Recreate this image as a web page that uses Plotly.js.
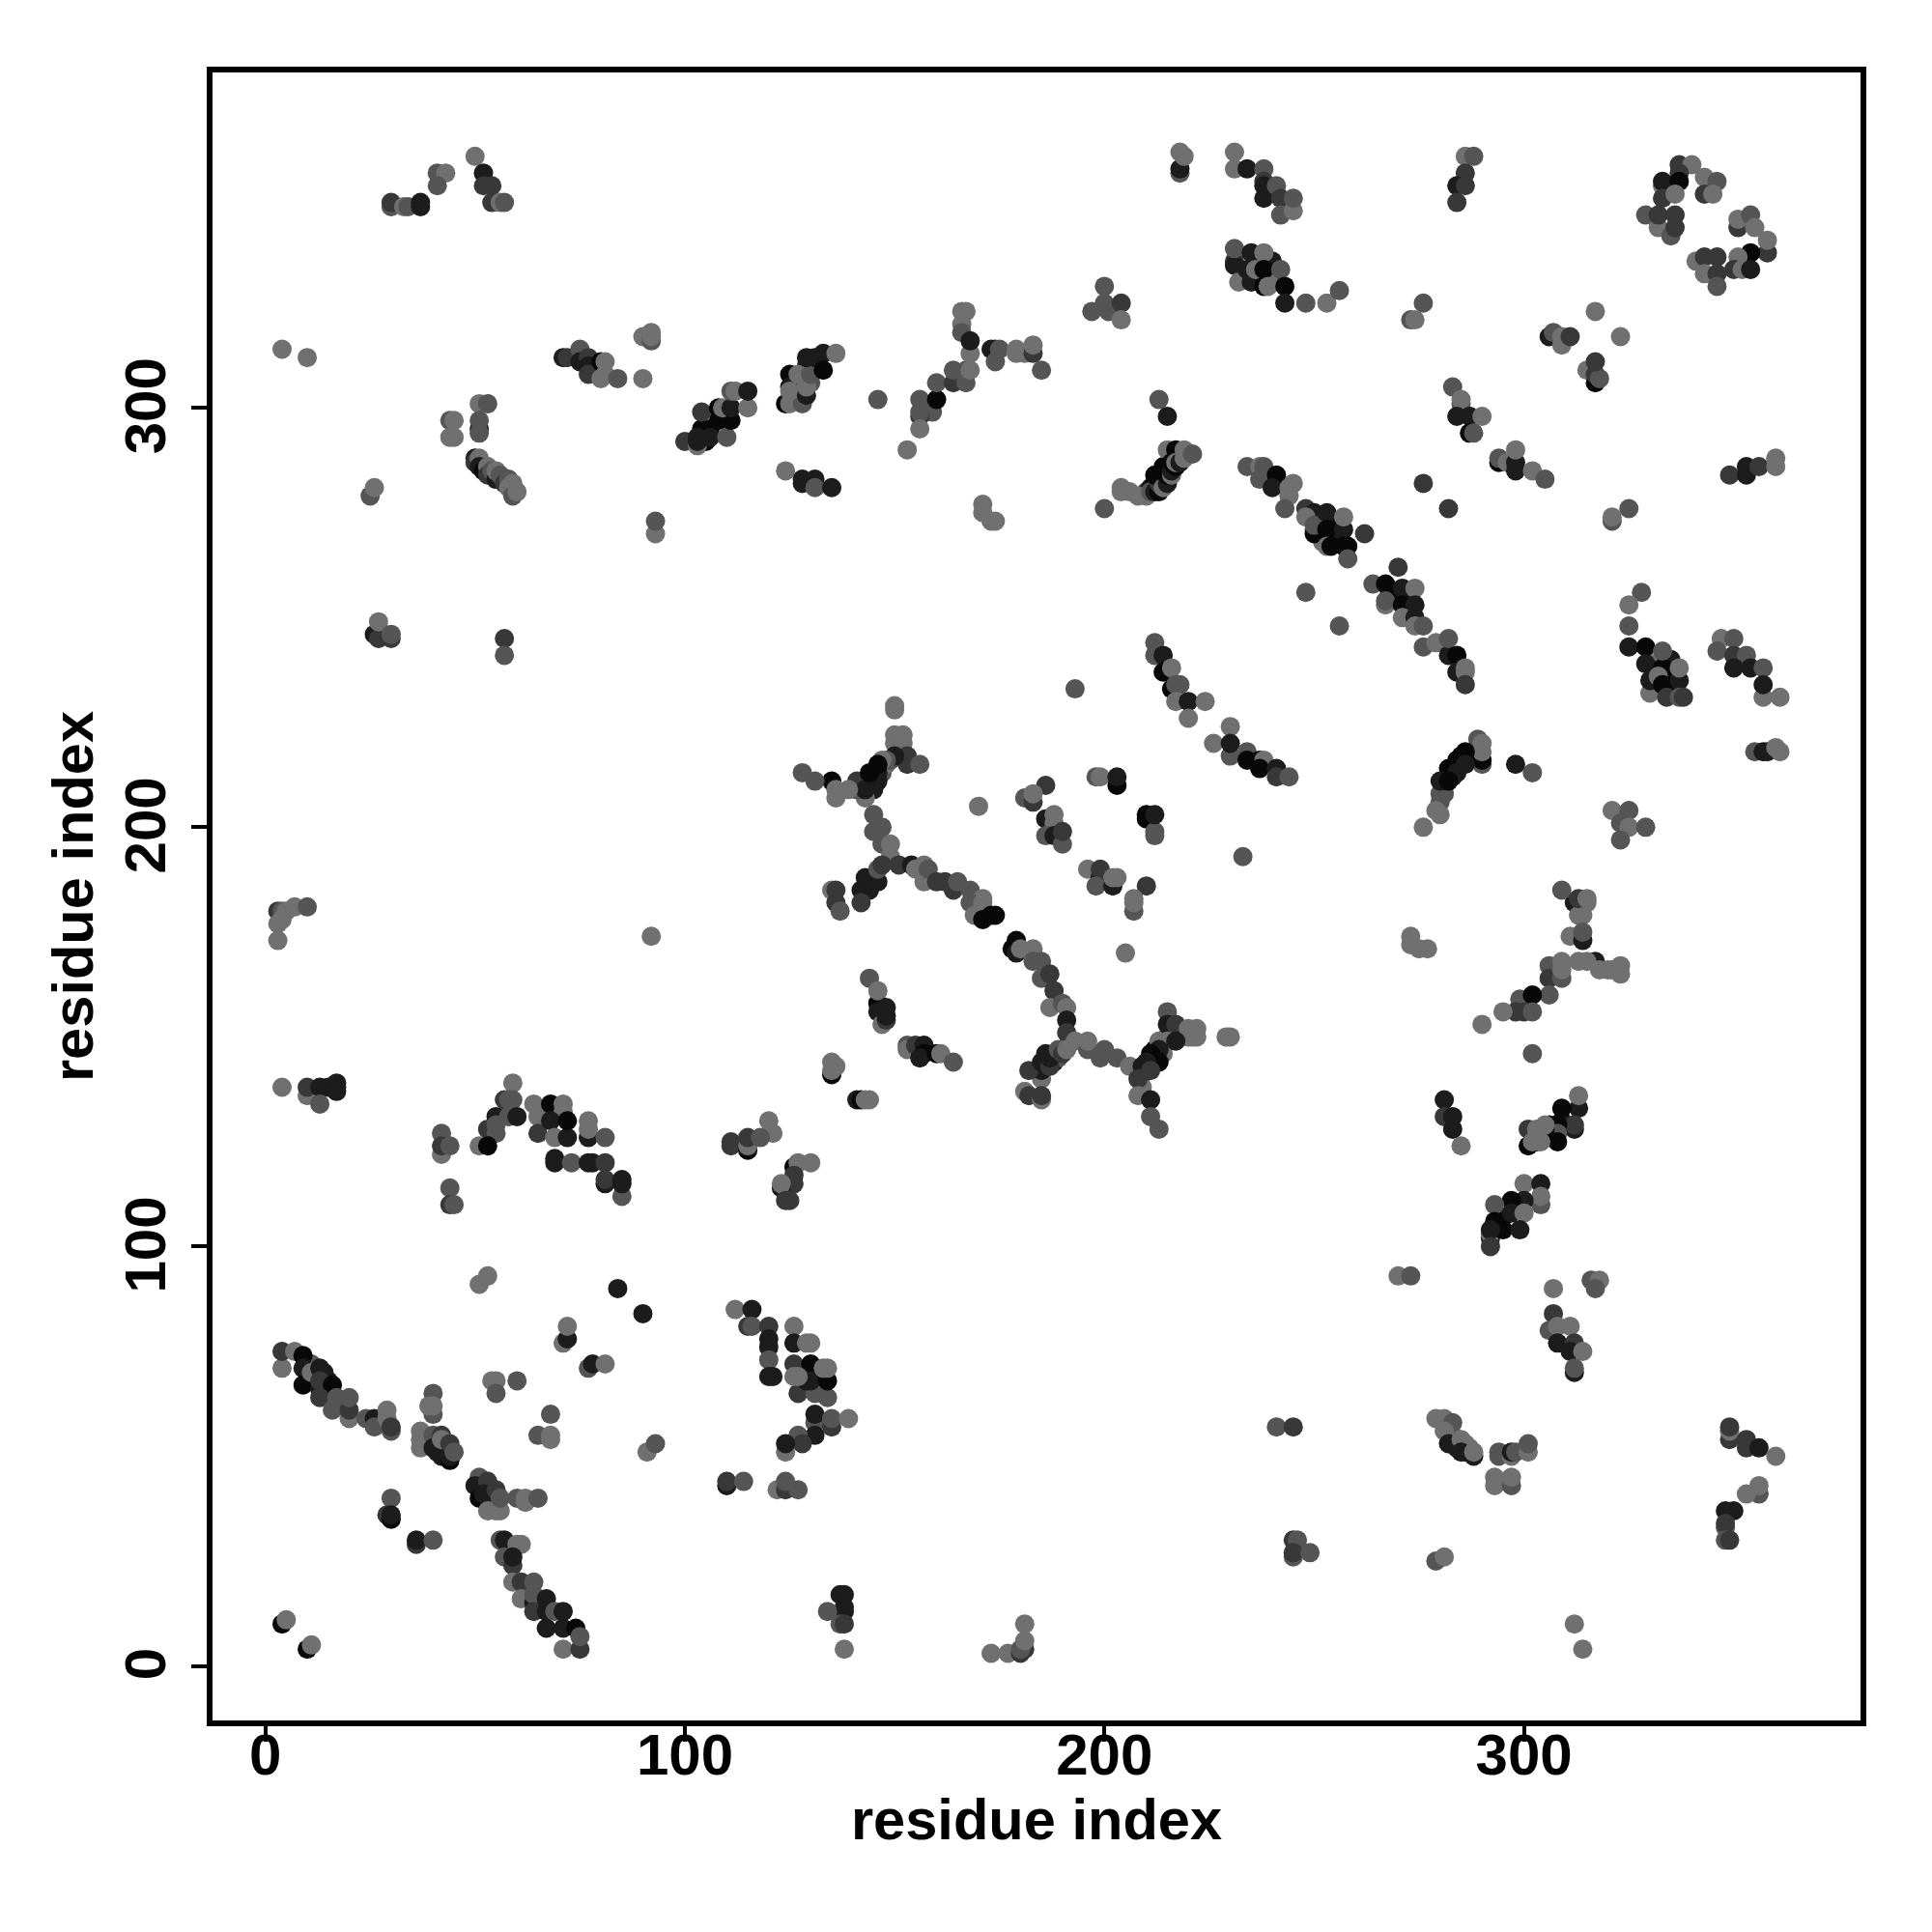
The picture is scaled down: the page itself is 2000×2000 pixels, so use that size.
<!DOCTYPE html>
<html><head><meta charset="utf-8">
<script src="https://cdn.plot.ly/plotly-3.0.1.min.js"></script>
<style>html,body{margin:0;padding:0;background:#fff}</style></head>
<body><div id="plot" style="width:2000px;height:2000px"></div>
<script>
const L=112,M=85,D=56,K=28,B=8;
const d01=[[144,210,K],[145,209,K],[142,209,B],[145,212,B],[147,213,M],[148,215,L],[149,216,M]];
const d02=[[210,280,D],[211,281,K],[212,282,B],[213,283,K],[214,284,M],[215,286,K],[216,288,K],[217,289,B],[218,289,L]];
const d03=[[281,210,K],[282,212,K],[283,212,K],[283,214,B],[285,215,B],[285,217,B],[287,217,K],[288,218,K],[280,206,M],[281,208,M]];
const d04=[[209,141,K],[210,142,K],[211,144,K],[212,145,B],[212,147,B],[213,146,K],[214,148,K],[214,146,L],[215,150,K],[213,149,L],[216,151,D]];
const d05=[[186,143,K],[186,146,K],[188,144,K],[188,146,K],[189,145,M]];
const d06=[[126,303,L],[126,305,K],[127,306,L],[128,304,K],[128,306,K],[130,306,M],[126,307,B],[129,310,K],[131,310,D]];
const d07=[[104,293,K],[105,292,B],[106,295,B],[109,298,K]];
const d08=[[10,72,K],[11,68,K],[11,72,M],[14,70,K],[15,68,K]];
const d09=[[42,52,K],[43,51,B],[43,53,M],[42,50,K]];
const d10=[[52,43,K],[53,42,K],[54,40,B],[54,42,M],[55,40,K]];
const d11=[[284,52,K],[283,55,L],[286,51,K],[287,52,L]];
const d12=[[303,125,B],[303,126,L],[306,126,L],[306,127,K],[309,130,B],[310,129,K],[306,129,B]];
const d13=[[292,102,K],[293,104,B],[295,107,B],[298,110,B]];
const d14=[[331,237,B],[331,239,L],[334,236,B],[335,240,K],[335,234,B],[333,236,B]];
const d15=[[268,256,K],[270,255,B],[272,255,K],[272,252,K],[273,255,K]];
const d16=[[252,273,K],[255,272,B],[255,270,K],[252,268,L],[256,269,K]];
const d17=[[237,331,B],[240,331,K],[241,330,L],[236,335,K],[240,335,K]];
const c01=[[50,360,L],[52,356,K],[52,353,D],[54,353,D],[54,349,D],[56,349,L],[57,349,M],[41,356,M],[43,356,L],[41,353,M]];
const c02=[[30,348,M],[30,349,D],[33,348,L],[34,348,M],[37,348,K],[37,349,K],[4,314,L],[10,312,L]];
const c03=[[71,312,K],[72,312,D],[75,314,M],[75,311,K],[77,312,D],[77,310,K],[77,308,D],[80,311,B],[81,311,L],[80,307,L],[81,308,L],[84,307,M],[90,307,L],[90,317,L],[92,316,M],[92,318,L],[92,317,L]];
const c04=[[100,292,D],[103,291,L],[103,292,K],[104,295,B],[103,293,K],[106,293,K],[110,293,M],[104,299,D],[108,297,B],[111,297,B],[108,300,B],[109,300,L],[111,300,K],[115,300,L],[111,304,M],[112,304,L],[115,304,K]];
const c05=[[44,297,M],[45,297,L],[44,293,L],[45,293,L],[51,301,L],[53,301,M],[51,295,K],[51,297,M],[51,294,M]];
const c06=[[50,288,K],[50,287,D],[51,288,L],[51,286,K],[52,285,B],[53,286,L],[53,284,D],[54,285,M],[55,283,K],[55,285,L],[56,284,M],[57,282,D],[58,283,M],[58,281,L],[59,282,L],[59,281,L],[59,279,M],[60,280,L],[25,279,M],[26,281,L]];
const c07=[[124,301,B],[125,301,L],[128,301,M],[125,308,B],[125,305,K],[125,304,L],[129,303,K],[129,305,L],[127,308,L],[130,308,M],[129,312,K],[131,312,K],[133,313,K],[133,309,B],[136,313,L]];
const c08=[[146,302,M],[156,302,M],[159,299,M],[160,302,B],[156,298,D],[156,299,M],[156,295,L],[153,290,L],[160,306,M],[164,306,D],[167,306,M],[164,309,M],[167,309,M],[168,309,L]];
const c09=[[166,323,L],[167,323,L],[166,320,L],[166,318,M],[168,313,L],[168,316,K],[173,314,K],[174,314,K],[175,314,M],[174,311,M],[179,313,L],[179,314,L],[181,313,L],[183,313,D],[183,315,L],[185,309,M]];
const c10=[[200,329,M],[200,325,M],[197,323,M],[201,323,M],[204,325,D],[204,321,L]];
const c11=[[218,356,M],[218,357,K],[218,361,L],[219,360,L]];
const c12=[[231,361,L],[231,357,L],[234,357,K],[238,357,M],[238,354,D],[238,353,K],[238,350,K],[241,353,M],[242,350,D],[242,346,M],[245,347,L],[245,350,M]];
const c13=[[231,335,D],[231,334,K],[231,338,M],[232,330,L],[235,337,K],[235,330,K],[234,333,K],[238,337,L],[236,333,L],[238,333,B],[242,333,M],[238,329,B],[239,329,L],[243,329,B],[243,325,K],[248,325,M],[253,325,L],[256,328,M]];
const c14=[[213,302,M],[215,298,K]];
const c15=[[276,325,M],[273,321,M],[274,321,L]];
const c16=[[286,360,L],[288,360,M],[286,356,D],[284,353,K],[286,353,D],[284,349,D]];
const c17=[[337,358,D],[340,358,L],[337,356,D],[333,353,L],[333,354,K],[337,354,B],[343,355,L],[346,354,M],[343,351,D],[345,351,L],[333,350,D],[336,351,L]];
const c18=[[329,346,M],[332,343,L],[335,341,M],[332,346,D],[336,346,D],[336,343,D]];
const c19=[[351,343,D],[351,345,L],[354,346,M],[355,343,L],[358,337,D],[358,340,L],[354,337,B],[351,336,L],[350,333,D],[352,333,L],[354,333,K]];
const c20=[[341,335,L],[343,336,D],[346,336,D],[343,332,L],[346,332,D],[346,329,M]];
const c21=[[317,323,L],[323,317,L],[306,317,K],[307,318,M],[309,315,L],[309,317,L],[311,317,D]];
const c22=[[315,309,L],[317,306,B],[317,308,D],[318,307,M],[317,311,D]];
const c23=[[283,305,M],[285,301,M],[285,302,L],[284,298,K],[287,298,K],[290,298,L],[287,294,B],[288,294,M]];
const c24=[[294,287,B],[294,288,M],[296,287,L],[298,287,K],[298,285,K],[298,290,L],[302,285,L],[305,283,M]];
const c25=[[276,282,D],[282,276,D],[349,284,D],[353,284,K],[353,286,K],[356,286,D],[360,286,L],[360,288,L]];
const c26=[[124,285,L],[128,282,K],[128,283,K],[131,283,K],[131,281,M],[135,281,K]];
const c27=[[200,276,M],[204,280,L],[204,281,L],[206,280,L],[208,279,L],[210,279,L],[211,280,M],[212,280,K],[213,280,B],[213,282,D],[212,284,B],[214,281,L],[214,286,B],[215,282,K],[215,284,B],[215,290,L],[216,284,L],[216,285,K],[216,287,B],[217,286,B],[217,290,B],[217,287,L],[218,287,K],[219,290,L],[219,288,L],[221,289,M]];
const c28=[[234,286,M],[237,286,L],[238,286,M],[237,283,M],[241,284,B],[245,282,L],[240,281,K],[244,281,L],[244,279,L],[243,276,M],[248,276,D],[250,275,K],[248,274,L],[250,271,L],[250,270,B],[250,272,M]];
const c29=[[253,275,K],[253,271,B],[257,271,K],[257,274,L],[253,267,L],[254,267,B],[257,267,B],[258,267,B],[262,270,D],[258,264,M]];
const c30=[[270,262,D],[264,258,M],[267,258,B],[271,257,K],[274,257,L],[267,253,L],[267,254,M],[271,253,B],[274,253,K],[271,250,L],[274,250,K],[274,248,L],[276,248,M],[256,248,M]];
const c31=[[276,243,M],[279,244,L],[282,241,K],[282,245,M],[284,241,B],[284,237,K],[286,238,L],[286,237,L],[286,234,D]];
const c32=[[171,277,L],[171,275,L],[173,273,L],[174,273,L]];
const c33=[[212,244,M],[212,241,M],[214,241,K],[214,237,B],[216,238,L],[216,233,B],[217,234,M],[218,234,M],[217,230,L],[220,230,K],[224,230,L],[220,226,L]];
const c34=[[230,224,L],[226,220,L],[230,217,M],[230,220,K],[234,218,M],[234,216,B],[237,216,B],[238,216,L],[237,214,B],[241,214,K],[241,212,D],[244,212,M],[248,256,M],[193,233,M]];
const c35=[[150,229,L],[150,228,L],[150,222,L],[150,220,L],[152,222,L],[152,220,L],[153,217,D],[153,215,D],[156,215,M],[150,217,K],[148,216,M],[147,216,L],[143,207,L],[141,209,M],[141,211,D],[146,211,K],[143,209,K],[146,213,K],[144,213,B],[146,215,B],[139,209,L],[135,211,B],[136,209,L],[136,207,L],[131,211,M],[128,213,M]];
const c36=[[170,205,L],[186,210,D],[181,207,M],[183,206,D],[183,208,L],[186,202,K],[188,203,L],[188,201,L],[186,198,M],[188,198,K],[190,196,M],[190,199,D]];
const c37=[[198,212,M],[199,212,L],[203,210,B],[203,212,K],[210,202,B],[210,203,B],[212,198,M],[212,199,M],[212,203,K],[233,193,M]];
const c38=[[145,203,M],[145,199,M],[147,200,M],[147,196,M],[149,196,L],[149,193,L]];
const c39=[[135,185,L],[136,185,D],[142,185,K],[144,185,K],[143,188,K],[146,187,K],[146,190,M],[147,191,D],[151,191,D],[154,191,K],[155,190,L],[157,187,L],[157,191,L],[158,190,M],[160,187,D],[162,187,D],[164,185,D],[165,187,M],[168,185,M],[171,183,L]];
const c40=[[196,190,L],[199,188,K],[199,190,D],[198,186,M],[202,186,K],[202,188,L],[203,188,L],[210,186,D],[207,180,M],[207,183,L],[207,182,L]];
const c41=[[136,182,D],[137,180,M],[142,182,D],[168,182,M],[171,182,L],[169,179,L],[171,178,B],[173,179,B],[174,179,B],[205,170,L]];
const c42=[[179,173,B],[178,171,B],[179,170,K],[180,171,L],[183,171,L],[183,168,M],[185,168,M],[185,164,M],[187,165,D],[188,161,D],[187,157,L],[190,158,M],[191,157,L],[191,154,K],[191,151,D],[193,149,L],[196,147,M],[196,149,L],[199,145,M],[200,147,M],[203,145,M]];
const c43=[[185,140,L],[185,142,K],[182,142,D],[185,144,K],[187,143,D],[187,145,K],[189,147,M],[190,146,D],[191,147,L],[181,137,L],[182,136,D],[185,135,L],[185,136,D]];
const c44=[[215,156,M],[215,153,K],[217,153,D],[220,152,L],[222,152,L],[220,150,L],[221,150,L],[222,150,L],[229,150,L],[230,150,L],[215,149,L],[217,149,K],[206,143,L],[213,147,K],[211,146,B],[213,144,B],[210,144,K],[209,143,K],[209,138,L],[208,140,D],[211,142,D],[208,136,L],[211,135,K],[211,131,M],[213,128,M]];
const c45=[[144,164,M],[146,158,B],[146,161,L],[146,156,K],[147,153,L],[148,154,D],[148,155,K],[148,157,K]];
const c46=[[153,148,M],[153,147,L],[155,148,D],[157,148,K],[157,146,B],[156,145,K],[160,146,B],[161,146,L],[164,144,M]];
const c47=[[135,141,B],[135,142,L],[135,144,L],[136,143,L],[141,135,K],[142,135,B],[143,135,L],[144,135,L]];
const c48=[[120,130,L],[121,127,L],[126,119,B],[127,120,L],[130,120,L],[126,117,D],[126,115,D],[123,114,K],[123,115,L],[124,111,D],[125,111,D]];
const c49=[[3,180,D],[4,180,M],[5,180,L],[7,181,L],[10,181,M],[4,178,L],[3,177,L],[3,173,L],[92,174,L]];
const c50=[[4,138,L],[10,136,L],[10,138,D],[13,138,K],[15,138,K],[17,138,K],[17,139,K],[17,137,K],[13,134,M]];
const c51=[[59,139,L],[57,135,D],[58,135,M],[59,135,M],[55,131,K],[58,131,M],[60,131,K],[53,128,D],[55,127,M],[55,129,M],[51,124,L],[53,124,B]];
const c52=[[64,134,L],[65,131,L],[65,127,D],[68,134,B],[71,134,L],[71,132,L],[68,130,K],[69,126,L],[72,126,K],[72,130,B],[77,126,K],[77,128,L],[77,130,L],[81,126,M]];
const c53=[[69,121,K],[69,120,K],[73,120,M],[77,120,K],[78,120,K],[81,120,D],[81,115,K],[81,116,D],[85,112,M],[85,115,K],[85,116,K]];
const c54=[[42,127,M],[42,122,L],[42,124,D],[44,124,M],[44,114,M],[44,110,D],[45,110,M],[53,93,L],[51,91,L],[84,90,K],[90,84,K]];
const c55=[[111,125,D],[111,124,D],[115,123,B],[115,124,L],[115,126,D],[118,126,M],[112,85,L],[116,85,K],[115,81,D],[116,81,M]];
const c56=[[71,77,L],[72,78,K],[72,81,L],[77,71,M],[78,72,K],[81,72,L]];
const c57=[[120,81,D],[126,81,L],[120,78,K],[120,76,K],[126,77,K],[129,77,L],[130,77,L],[120,73,M],[120,69,K],[121,69,K],[126,72,D],[127,65,D],[131,65,M],[134,64,M],[130,72,B],[130,68,K],[129,68,K],[126,69,L],[127,69,L],[134,68,B],[133,71,L],[134,71,L]];
const c58=[[131,58,M],[131,60,K],[135,57,D],[135,59,M],[139,59,L],[131,55,K],[127,55,M],[128,53,D],[124,51,L],[124,53,K]];
const c59=[[122,42,L],[124,42,D],[124,44,M],[127,42,M],[241,57,M],[245,57,D]];
const c60=[[245,30,D],[246,30,M],[245,26,M],[245,27,D],[249,27,M]];
const c61=[[137,17,K],[138,17,K],[138,14,K],[138,13,K],[134,13,M],[137,10,M],[138,10,D],[138,4,L]];
const c62=[[173,3,L],[177,3,L],[180,3,D],[181,4,D],[180,4,M],[181,6,L],[181,10,L]];
const c63=[[4,10,B],[5,11,L],[10,4,B],[11,5,L]];
const c64=[[4,71,L],[4,75,D],[7,75,L],[9,74,B],[9,71,K],[9,67,B],[11,70,L],[13,71,K],[13,66,K],[13,68,D],[16,67,B],[13,64,D],[17,64,M],[16,61,M],[20,59,L],[20,61,D],[20,64,M],[24,59,M],[26,59,K],[26,57,M],[29,61,L],[29,59,L],[30,56,M],[30,57,D]];
const c65=[[40,60,M],[40,65,M],[39,62,L],[40,62,L],[37,52,L],[37,54,L],[37,56,L],[40,55,M],[40,52,K],[41,51,K],[42,55,D],[42,54,L],[44,49,B],[44,50,K],[44,53,D],[45,51,M]];
const c66=[[51,45,M],[50,43,K],[53,44,D],[51,40,B],[52,41,K],[55,42,D],[53,37,L],[55,37,L],[56,37,L],[56,40,M],[60,40,M],[62,39,L],[62,40,L],[65,40,M]];
const c67=[[30,40,M],[29,36,D],[30,35,B],[30,36,K],[36,29,D],[36,30,K],[40,30,M]];
const c68=[[56,30,M],[57,30,K],[60,29,L],[61,29,L],[57,26,M],[59,24,D],[59,26,K]];
const c69=[[59,20,L],[61,20,D],[64,20,M],[61,16,L],[64,15,K],[64,17,M],[64,13,D],[67,16,K],[67,13,K],[67,9,K],[69,13,M],[71,13,K],[71,9,K],[74,9,B],[71,4,L],[75,4,D],[75,7,M]];
const c70=[[110,43,K],[110,44,D],[114,44,M],[68,60,M],[65,55,M],[68,55,L],[68,54,L],[54,68,L],[55,68,L],[60,68,M],[55,65,M],[91,51,L],[93,53,M]];
const c71=[[279,59,L],[281,59,L],[283,58,M],[281,56,L],[282,53,K],[285,54,L],[286,53,L],[285,51,K],[288,50,K],[288,51,L]];
const c72=[[294,50,M],[294,51,M],[297,50,L],[297,51,K],[298,51,M],[301,51,L],[301,53,M],[293,45,L],[293,43,L],[297,43,M],[297,45,L]];
const c73=[[307,84,D],[306,80,M],[308,81,L],[311,81,L],[308,77,K],[312,77,D],[311,75,K],[314,75,L],[312,70,K],[312,71,M],[307,90,L]];
const c74=[[279,25,M],[281,26,L],[312,10,L],[314,4,L],[349,54,D],[349,56,L],[349,57,D],[353,52,D],[353,54,D],[356,52,K],[360,50,L],[356,41,M],[356,43,L],[353,41,L]];
const c75=[[348,37,K],[350,37,K],[348,33,M],[348,34,D],[348,30,M],[349,30,D]];
const c76=[[273,172,L],[273,174,L],[275,171,L],[277,171,L],[312,182,K],[315,182,L],[313,179,L],[314,179,L],[311,174,L],[314,173,K],[314,175,M]];
const c77=[[317,168,K],[313,168,L],[315,168,L],[306,167,M],[306,164,D],[309,164,M],[309,166,L],[309,168,L],[318,166,L],[320,166,L],[321,166,L],[323,165,L],[323,167,L]];
const c78=[[306,160,M],[299,159,M],[302,160,B],[298,156,D],[300,156,D],[302,156,M],[295,156,L],[290,153,L],[302,146,M]];
const c79=[[281,135,K],[281,131,D],[283,131,K],[283,128,K],[285,124,L]];
const c80=[[313,133,K],[313,136,L],[309,133,B],[312,128,K],[312,129,D],[308,129,B],[308,127,M],[308,125,B],[305,128,B],[305,129,L],[304,125,L],[301,128,D],[303,128,L],[301,124,B],[302,125,L]];
const c81=[[300,115,L],[304,115,K],[304,110,M],[304,112,L],[300,111,K],[297,111,B],[297,108,K],[300,108,L],[293,110,M],[292,103,L],[293,106,B],[295,104,B],[299,104,K],[292,104,K],[292,100,D]];
const c82=[[270,93,L],[273,93,M],[316,92,M],[318,92,L],[317,90,M]];
const c83=[[325,276,M],[321,273,M],[321,274,L],[328,256,M],[325,253,L],[325,248,M],[325,243,K],[329,243,B],[329,239,K],[330,232,L],[330,235,K],[333,238,B],[333,242,M],[332,236,L],[333,234,B],[334,231,D],[337,235,K],[337,238,L],[337,231,M],[338,231,D]];
const c84=[[347,245,L],[350,245,M],[346,242,M],[350,241,D],[353,241,M],[350,238,K],[354,238,K],[357,238,M],[357,231,L],[357,234,K],[361,231,L]];
const c85=[[289,221,M],[290,215,M],[290,216,B],[290,218,L],[290,220,L],[286,218,B],[284,216,B],[286,215,K],[282,214,B],[284,213,K],[280,208,M],[280,211,K],[282,211,B],[279,204,L],[280,203,L],[276,200,L],[298,215,K],[302,213,M]];
const c86=[[355,218,M],[357,218,K],[358,218,K],[360,219,L],[361,218,L]];
const c87=[[321,204,L],[325,204,M],[323,201,M],[325,200,L],[329,200,M],[323,197,M],[309,185,M],[313,183,D],[315,183,L]];
const c88=[[26,246,K],[27,245,D],[27,249,L],[30,245,D],[30,246,M],[57,245,D],[57,241,M],[93,270,L],[93,273,M]];
const clusters=[d01,d02,d03,d04,d05,d06,d07,d08,d09,d10,d11,d12,d13,d14,d15,d16,d17,c01,c02,c03,c04,c05,c06,c07,c08,c09,c10,c11,c12,c13,c14,c15,c16,c17,c18,c19,c20,c21,c22,c23,c24,c25,c26,c27,c28,c29,c30,c31,c32,c33,c34,c35,c36,c37,c38,c39,c40,c41,c42,c43,c44,c45,c46,c47,c48,c49,c50,c51,c52,c53,c54,c55,c56,c57,c58,c59,c60,c61,c62,c63,c64,c65,c66,c67,c68,c69,c70,c71,c72,c73,c74,c75,c76,c77,c78,c79,c80,c81,c82,c83,c84,c85,c86,c87,c88];
const pts=clusters.flat();
const tickFont={family:'"Liberation Sans",Arial,sans-serif',size:60,color:'#000',weight:700};
const titleFont={family:'"Liberation Sans",Arial,sans-serif',size:59.6,color:'#000',weight:700};
const axisBase={showgrid:false,zeroline:false,showline:true,mirror:true,linecolor:'#000',linewidth:6,
  ticks:'outside',ticklen:16,tickwidth:4,tickcolor:'#000',tickvals:[0,100,200,300],ticktext:['0','100','200','300'],
  tickfont:tickFont,automargin:false};
Plotly.newPlot('plot',[{type:'scatter',mode:'markers',x:pts.map(p=>p[0]),y:pts.map(p=>p[1]),
  marker:{size:20,line:{width:0},color:pts.map(p=>`rgb(${p[2]},${p[2]},${p[2]})`)},hoverinfo:'skip'}],
 {width:2000,height:2000,margin:{l:220,r:74,t:75,b:219},paper_bgcolor:'#fff',plot_bgcolor:'#fff',showlegend:false,
  xaxis:Object.assign({},axisBase,{range:[-12.57,380.2],ticklabelstandoff:-38,title:{text:'residue index',font:titleFont,standoff:7.5}}),
  yaxis:Object.assign({},axisBase,{range:[-13.0,380.0],tickangle:-90,ticklabelstandoff:3,ticklabelshift:7,title:{text:'residue index',font:titleFont,standoff:3}})
 },{staticPlot:true});
</script></body></html>
